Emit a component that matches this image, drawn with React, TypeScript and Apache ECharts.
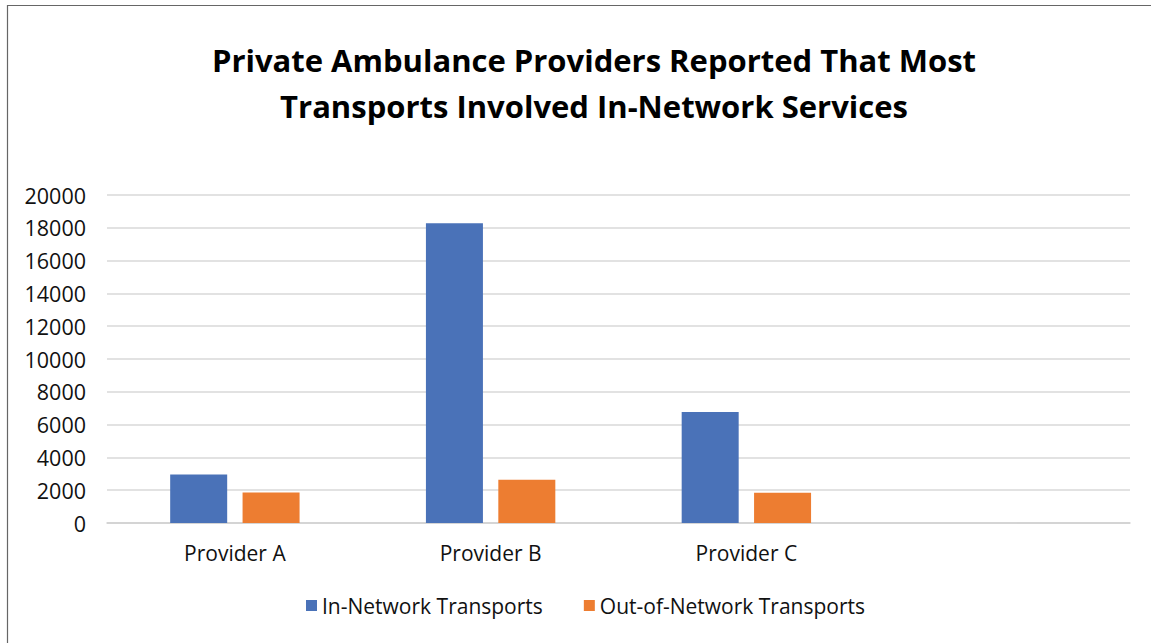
import React, { useEffect, useRef } from "react";
import * as echarts from "echarts";

const categories = ["Provider A", "Provider B", "Provider C", ""];
const inNetwork = [2960, 18270, 6770, null];
const outNetwork = [1860, 2630, 1850, null];
const seriesNames = ["In-Network Transports", "Out-of-Network Transports"];
const titleText = "Private Ambulance Providers Reported That Most\nTransports Involved In-Network Services";

export default function App() {
  const ref = useRef<HTMLDivElement>(null);
  useEffect(() => {
    const chart = echarts.init(ref.current!, null, { renderer: "svg" });
    const font = "'Open Sans', sans-serif";
    chart.setOption({
      animation: false,
      backgroundColor: "#ffffff",
      title: {
        text: titleText,
        left: 589,
        textAlign: "center",
        top: 32,
        textStyle: { fontFamily: font, fontWeight: "bold", fontSize: 31, lineHeight: 46, color: "#000" },
      },
      legend: {
        top: 590,
        left: 301,
        itemWidth: 11,
        itemHeight: 11,
        itemGap: 41,
        icon: "rect",
        textStyle: { fontFamily: font, fontSize: 21, color: "#111" },
        data: seriesNames,
      },
      grid: { left: 107, right: 21, top: 195, bottom: 120, containLabel: false },
      xAxis: {
        type: "category",
        data: categories,
        axisLine: { lineStyle: { color: "#d0d0d0", width: 1.5 } },
        axisTick: { show: false },
        axisLabel: { fontFamily: font, fontSize: 21, color: "#111", margin: 19 },
      },
      yAxis: {
        type: "value",
        min: 0,
        max: 20000,
        interval: 2000,
        axisLine: { show: false },
        axisTick: { show: false },
        splitLine: { lineStyle: { color: "#d9d9d9", width: 1.5 } },
        axisLabel: { fontFamily: font, fontSize: 21.5, color: "#111", margin: 21, formatter: (v: number) => String(v) },
      },
      series: [
        {
          name: seriesNames[0],
          type: "bar",
          data: inNetwork,
          barWidth: 57,
          barGap: "27%",
          itemStyle: { color: "#4a72b8" },
        },
        {
          name: seriesNames[1],
          type: "bar",
          data: outNetwork,
          barWidth: 57,
          itemStyle: { color: "#ed7d31" },
        },
      ],
      graphic: [
        {
          type: "rect",
          shape: { x: 7.5, y: 5.5, width: 1200, height: 700 },
          style: { fill: "none", stroke: "#666", lineWidth: 1.2 },
          silent: true,
        },
      ],
    });
    return () => chart.dispose();
  }, []);
  return (
    <div
      ref={ref}
      style={{ position: "absolute", left: 0, top: 0, width: 1151, height: 643 }}
    />
  );
}
